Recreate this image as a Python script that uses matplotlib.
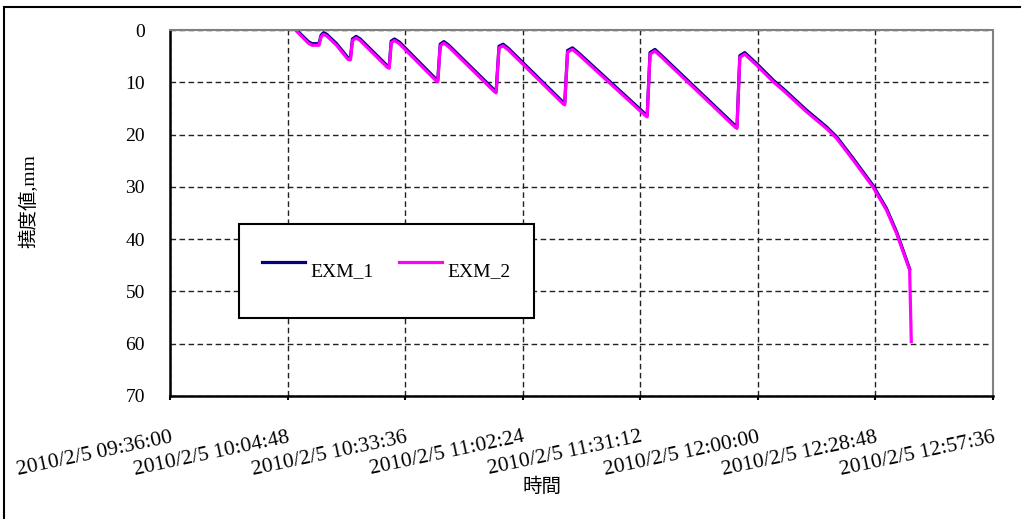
import matplotlib
matplotlib.use("Agg")
import matplotlib.pyplot as plt
import matplotlib.dates as mdates
import pandas as pd
from matplotlib.patches import Rectangle
from matplotlib.ticker import FuncFormatter, MultipleLocator

plt.rcParams["font.family"] = ["Liberation Serif", "Noto Sans CJK JP"]
plt.rcParams["font.size"] = 14

DAY = "2010-02-05"

# sampling times (EXM_2 has one extra reading at the end)
times = [
    "10:07:00", "10:09:54", "10:10:48", "10:12:30", "10:13:00", "10:13:36",
    "10:14:24", "10:16:48", "10:19:36", "10:20:12", "10:20:42", "10:21:36",
    "10:22:36", "10:29:12", "10:29:42", "10:30:12", "10:31:00", "10:32:12",
    "10:41:12", "10:41:36", "10:42:12", "10:43:06", "10:44:18", "10:55:30",
    "10:55:54", "10:56:36", "10:57:36", "10:58:54", "11:12:18", "11:12:42",
    "11:13:24", "11:14:36", "11:16:00", "11:32:30", "11:32:54", "11:33:36",
    "11:34:48", "11:36:12", "11:54:30", "11:54:54", "11:55:36", "11:56:48",
    "11:59:42", "12:03:48", "12:06:12", "12:11:54", "12:16:48", "12:19:18",
    "12:23:24", "12:28:12", "12:31:30", "12:34:00", "12:37:12", "12:37:36",
]

exm_2 = [
    0.2, 2.5, 2.9, 2.9, 1.3, 0.8,
    1.1, 2.9, 5.6, 5.7, 2.0, 1.5,
    2.0, 7.1, 7.3, 2.4, 2.0, 2.6,
    9.7, 9.9, 3.0, 2.5, 3.2, 11.8,
    12.0, 3.4, 3.0, 3.8, 14.1, 14.3,
    4.2, 3.7, 4.6, 16.4, 16.6, 4.6,
    4.0, 5.0, 18.6, 18.8, 5.2, 4.6,
    6.7, 9.9, 11.5, 15.6, 18.8, 20.7,
    24.9, 30.0, 34.4, 38.9, 45.9, 59.6,
]

exm_1 = [
    0.0, 2.2, 2.6, 2.6, 1.0, 0.5,
    0.8, 2.6, 5.3, 5.4, 1.7, 1.2,
    1.7, 6.8, 7.0, 2.1, 1.7, 2.3,
    9.4, 9.6, 2.7, 2.2, 2.9, 11.5,
    11.7, 3.1, 2.7, 3.5, 13.8, 14.0,
    3.9, 3.4, 4.3, 16.1, 16.3, 4.3,
    3.7, 4.7, 18.3, 18.5, 4.9, 4.3,
    6.4, 9.6, 11.2, 15.3, 18.5, 20.4,
    24.6, 29.7, 34.1, 38.6, 45.7,
]

x_start = "09:36:00"
x_end = "12:57:36"

t = pd.to_datetime([f"{DAY} {s}" for s in times])
t_lo = pd.Timestamp(f"{DAY} {x_start}")
t_hi = pd.Timestamp(f"{DAY} {x_end}")

fig = plt.figure(figsize=(10.21, 5.19), dpi=100)
ax = fig.add_axes([0.1665, 0.237, 0.806, 0.705])

ax.plot(t[:len(exm_1)], exm_1, color="#000080", lw=2.3, label="EXM_1")
ax.plot(t, exm_2, color="#FF00FF", lw=2.3, label="EXM_2")

ax.set_xlim(mdates.date2num(t_lo), mdates.date2num(t_hi))
ax.set_ylim(70, 0)

# 28:48 between ticks = 0.02 day
ax.xaxis.set_major_locator(MultipleLocator(0.02))
ax.xaxis.set_major_formatter(FuncFormatter(
    lambda v, _: (lambda d: f"{d.year}/{d.month}/{d.day} {d:%H:%M:%S}")(
        mdates.num2date(v + 1e-9))))
ax.yaxis.set_major_locator(MultipleLocator(10))

ax.grid(True, color="#222222", lw=1.0, ls=(0, (4, 2.5)))
ax.set_axisbelow(True)
ax.xaxis.get_gridlines()[-1].set_visible(False)
ax.yaxis.get_gridlines()[0].set_visible(False)

for side in ("left", "bottom"):
    ax.spines[side].set_linewidth(1.8)
    ax.spines[side].set_color("black")
for side in ("top", "right"):
    ax.spines[side].set_color("#808080")
    ax.spines[side].set_linewidth(1.5)
    ax.spines[side].set_linestyle((0, (3, 1)))

ax.tick_params(axis="x", direction="out", length=3, width=1.5, pad=20,
               labelsize=15.5)
ax.tick_params(axis="y", length=0, pad=18)
for lab in ax.get_xticklabels():
    lab.set_rotation(12)
    lab.set_ha("right")
    lab.set_va("top")
    lab.set_rotation_mode("anchor")

ax.set_xlabel("時間", fontsize=14)
ax.xaxis.set_label_coords(0.452, -0.222)
ax.set_ylabel("撓度値,mm", fontsize=14)
ax.yaxis.set_label_coords(-0.160, 0.533)

leg = ax.legend(loc="center", bbox_to_anchor=(0.263, 0.3415), ncol=2,
                fontsize=14, frameon=True, fancybox=False, framealpha=1,
                edgecolor="black", borderpad=1.2, handlelength=2.2,
                handletextpad=0.3, columnspacing=1.3, handleheight=3.4)
leg.get_frame().set_linewidth(1.5)

# outer chart border
fig.add_artist(Rectangle((4 / 1021, -0.1), 1.2, 0.1 + (1 - 7 / 519),
                         transform=fig.transFigure, fill=False,
                         ec="black", lw=1.5))

fig.savefig("out.png", dpi=100)
